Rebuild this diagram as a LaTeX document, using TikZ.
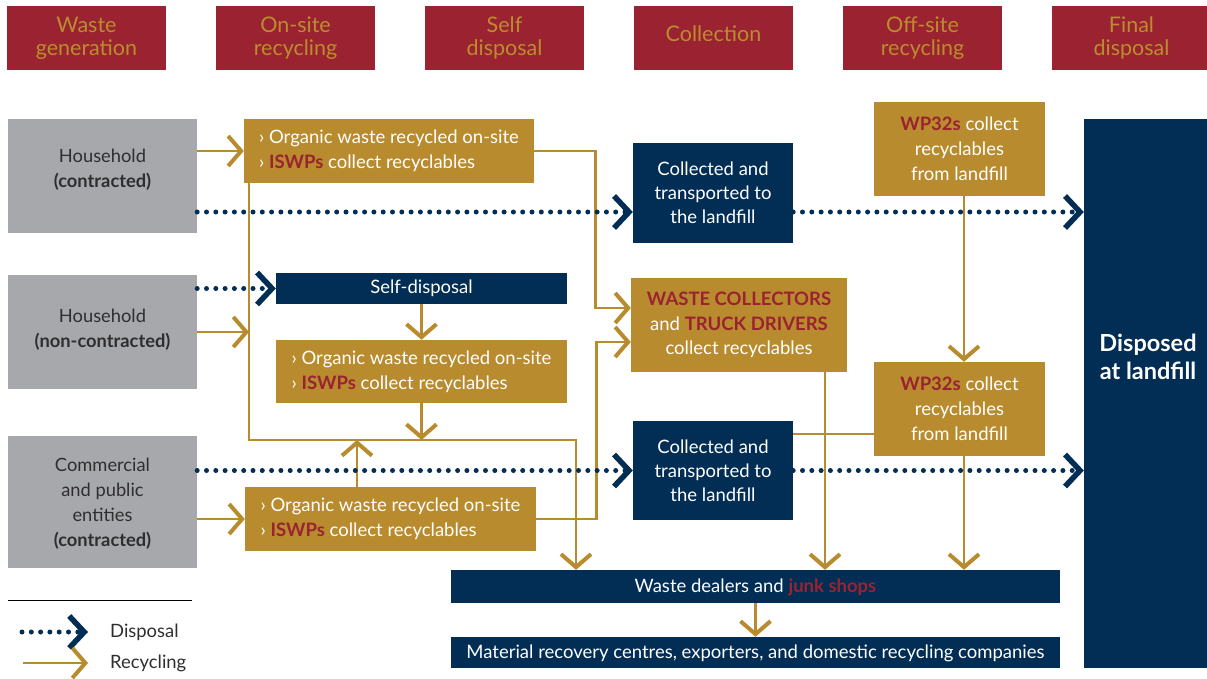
\documentclass[tikz,border=0pt]{standalone}
\usepackage{fontspec}
\setmainfont{Lato}
\usetikzlibrary{arrows.meta,calc}
\definecolor{hred}{HTML}{9B2230}
\definecolor{hgold}{HTML}{BB8D2F}
\definecolor{gold}{HTML}{B88B2E}
\definecolor{navy}{HTML}{022E55}
\definecolor{gry}{HTML}{A7A8AB}
\definecolor{dark}{HTML}{2E2E30}
\begin{document}
\begin{tikzpicture}[x=1pt,y=-1pt,
  gt/.tip={Straight Barb[length=13pt,width=30pt,line width=4pt]},
  nt/.tip={Straight Barb[length=15pt,width=32pt,line width=5.5pt]},
  hdr/.style={fill=hred,text=hgold,font=\fontsize{21.5}{23}\selectfont,align=center,minimum width=159,minimum height=64,inner sep=0},
  grayb/.style={fill=gry,minimum width=189,inner sep=0},
  grayt/.style={text=dark,font=\fontsize{18.3}{24.8}\selectfont,align=center,inner sep=0},
  goldb/.style={fill=gold,text=white,font=\fontsize{18.5}{24.8}\selectfont,inner sep=0},
  navyb/.style={fill=navy,text=white,font=\fontsize{18.5}{24.2}\selectfont,align=center,inner sep=0},
  oneline/.style={text height=12pt,text depth=3pt},
  rec/.style={draw=gold,line width=2.6,-gt},
  recl/.style={draw=gold,line width=2.6},
  disp/.style={draw=navy,line width=5,line cap=round,dash pattern=on 0pt off 9.3pt,-nt},
  legt/.style={text=dark,font=\fontsize{18.4}{20}\selectfont,anchor=west,inner sep=0},
  hl/.style={text=hred,font=\bfseries}
]
\useasboundingbox (0,0) rectangle (1207,678);
% headers
\node[hdr] (h1) at (86.5,38) {Waste\\generation};
\node[hdr] (h2) at (295.5,38) {On-site\\recycling};
\node[hdr] (h3) at (504.5,38) {Self\\disposal};
\node[hdr,text height=15pt,text depth=9pt] (h4) at (713.5,38) {Collection};
\node[hdr] (h5) at (922.5,38) {Off-site\\recycling};
\node[hdr] (h6) at (1131.5,38) {Final\\disposal};
% left gray boxes
\node[grayb,minimum height=114] (g1) at (102.5,176) {};
\node[grayt] (g1t) at (102.5,170) {Household\\\textbf{(contracted)}};
\node[grayb,minimum height=114] (g2) at (102.5,332) {};
\node[grayt] (g2t) at (102.5,330) {Household\\\textbf{(non-contracted)}};
\node[grayb,minimum height=132] (g3) at (102.5,502) {};
\node[grayt] (g3t) at (102.5,503.5) {Commercial\\and public\\entities\\\textbf{(contracted)}};
% on-site
\node[goldb,minimum width=290,minimum height=64,align=left] (o1) at (389,151) {› Organic waste recycled on-site\\› \textcolor{hred}{\textbf{ISWPs}} collect recyclables};
\node[navyb,oneline,minimum width=291,minimum height=31] (self) at (421.5,288.5) {Self-disposal};
\node[goldb,minimum width=291,minimum height=63,align=left] (o2) at (421.5,371.5) {› Organic waste recycled on-site\\› \textcolor{hred}{\textbf{ISWPs}} collect recyclables};
\node[goldb,minimum width=291,minimum height=64,align=left] (o3) at (390.5,519) {› Organic waste recycled on-site\\› \textcolor{hred}{\textbf{ISWPs}} collect recyclables};
% collection
\node[navyb,minimum width=160,minimum height=100] (c1) at (713,193) {Collected and\\transported to\\the landfill};
\node[navyb,minimum width=160,minimum height=99] (c2) at (713,470.5) {Collected and\\transported to\\the landfill};
\node[goldb,align=center,minimum width=216,minimum height=94] (wc) at (739,325) {\textcolor{hred}{\textbf{WASTE COLLECTORS}}\\and \textcolor{hred}{\textbf{TRUCK DRIVERS}}\\collect recyclables};
% off-site
\node[goldb,align=center,minimum width=171,minimum height=94] (wp1) at (959.5,149) {\textcolor{hred}{\textbf{WP32s}} collect\\recyclables\\from landfill};
\node[goldb,align=center,minimum width=171,minimum height=94] (wp2) at (959.5,409) {\textcolor{hred}{\textbf{WP32s}} collect\\recyclables\\from landfill};
% final
\node[navyb,minimum width=128,minimum height=549] (lf) at (1148,393.5) {};
\node[text=white,font=\fontsize{23.5}{27.5}\selectfont\bfseries,align=center,inner sep=0] (lft) at (1148,357) {Disposed\\at landfill};
% dealers
\node[navyb,text height=14pt,text depth=3pt,minimum width=609,minimum height=33] (wd) at (755.5,586.5) {Waste dealers and \textcolor{hred}{\textbf{junk shops}}};
\node[navyb,text height=15pt,text depth=3pt,minimum width=609,minimum height=31] (mr) at (755.5,652.5) {Material recovery centres, exporters, and domestic recycling companies};
% recycling connectors
\coordinate (jl) at (249,440);
\draw[rec] (g1.east |- o1.west) -- (o1.west);
\draw[rec] (o1.east) -- ++(61,0) |- ([yshift=17]wc.west);
\draw[rec] (o3.east) -- ++(60,0) |- ([yshift=-17]wc.west);
\draw[rec] ([xshift=-140]o1.south) -- (jl) -| ([xshift=-179.5]wd.north);
\draw[rec] (g2.east) -- (g2.east -| jl);
\draw[rec] (self.south) -- (o2.north);
\draw[rec] (o2.south) -- (o2.south |- jl);
\draw[rec] ([xshift=-33.5]o3.north) -- ([xshift=-33.5]o3.north |- jl);
\draw[rec] (g3.east |- o3.west) -- (o3.west);
\draw[rec] ([xshift=86]wc.south) -- ([xshift=86]wc.south |- wd.north);
\draw[rec] ([xshift=4.5]wp1.south) -- ([xshift=4.5]wp2.north);
\draw[rec] ([xshift=4.5]wp2.south) -- ([xshift=4.5]wp2.south |- wd.north);
\draw[recl] ([yshift=36.5]c2.east) -- ([yshift=36.5]c2.east -| wp2.west);
\draw[rec] (wd.south) -- (mr.north);
% disposal connectors
\draw[disp] ([yshift=-36]g1.east) -- ([yshift=-36]g1.east -| c1.west);
\draw[disp] ([yshift=-36]g1.east -| c1.east) -- ([yshift=-36]g1.east -| lf.west);
\draw[disp] (g2.east |- self.west) -- (self.west);
\draw[disp] (g3.east |- c2.west) -- (c2.west);
\draw[disp] (c2.east) -- (c2.east -| lf.west);
% legend
\coordinate (lga) at (8,600);
\coordinate (lgb) at (192,600);
\draw[black,line width=0.9] (lga) -- (lgb);
\coordinate (lds) at (22,632);
\coordinate (lde) at (88,632);
\coordinate (lrs) at (23,663);
\coordinate (lre) at (88,663);
\draw[disp] (lds) -- (lde);
\draw[rec] (lrs) -- (lre);
\node[legt] (ld) at (110,632) {Disposal};
\node[legt] (lr) at (110,663) {Recycling};
\end{tikzpicture}
\end{document}
